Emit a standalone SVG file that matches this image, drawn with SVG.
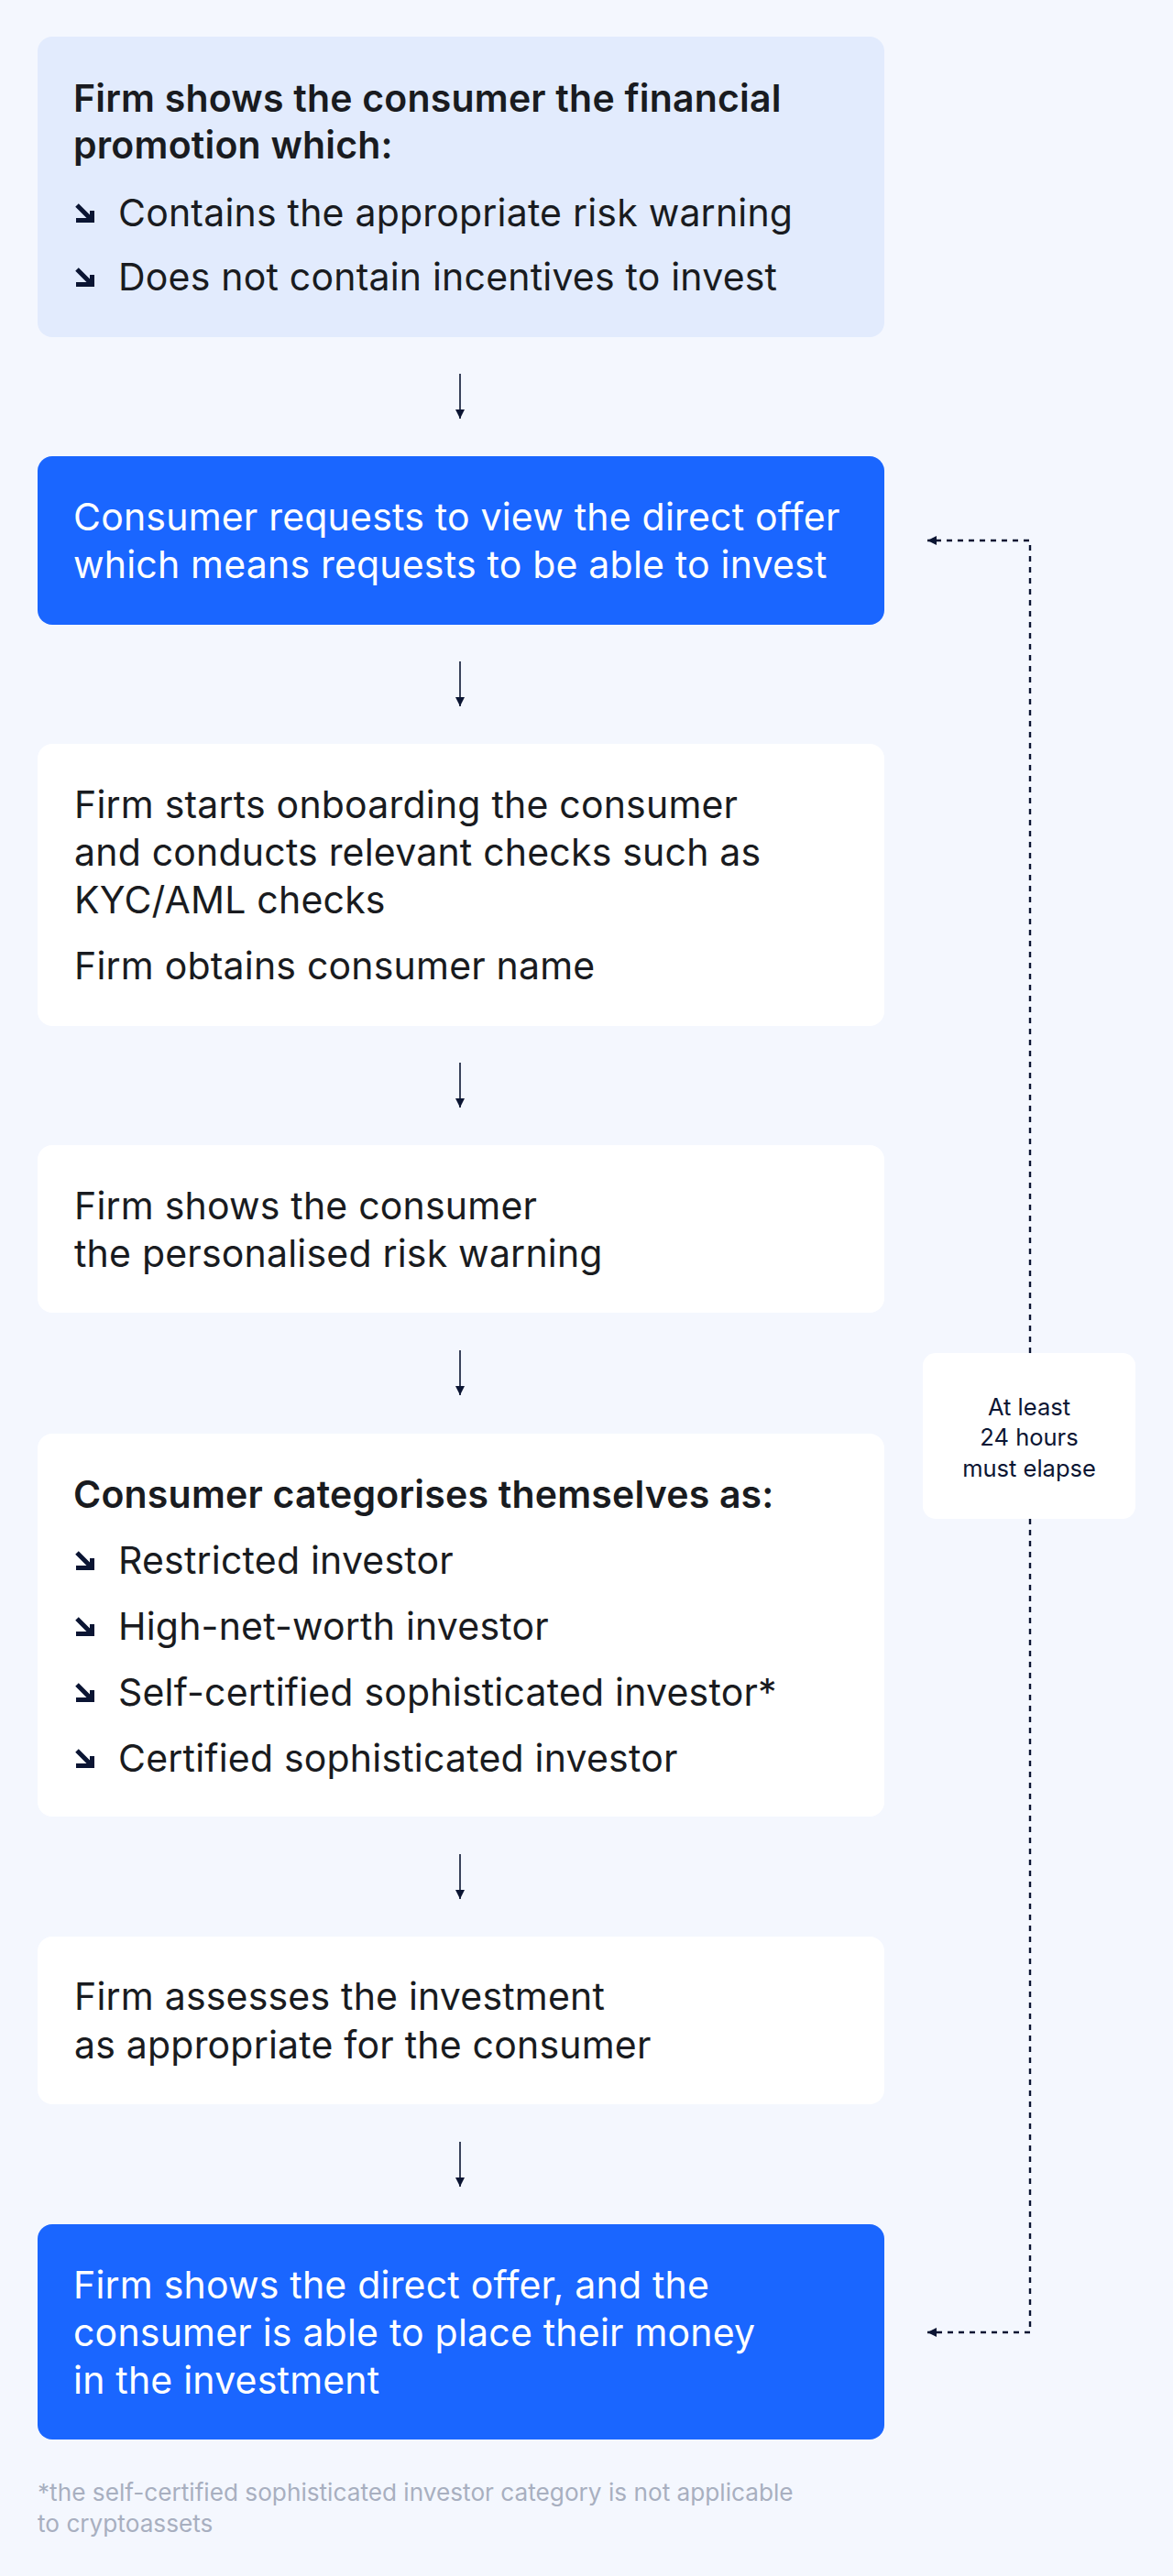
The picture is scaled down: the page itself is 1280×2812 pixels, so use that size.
<svg xmlns="http://www.w3.org/2000/svg" width="1280" height="2812" viewBox="0 0 1280 2812">
<defs>
<style>
.t{font-family:Inter,"Liberation Sans",sans-serif;font-size:41px;letter-spacing:0.2px;fill:#191b20}
.w{fill:#ffffff}
.b{font-weight:600}
.s{font-family:Inter,"Liberation Sans",sans-serif;font-size:25.5px;fill:#0b1533;text-anchor:middle}
.f{font-family:Inter,"Liberation Sans",sans-serif;font-size:26.2px;fill:#a8afc0}
.arr{stroke:#0b1533;stroke-width:1.6;fill:none}
.dash{stroke:#0b1533;stroke-width:2.4;fill:none;stroke-dasharray:6 6}
.ic{stroke:#0b1533;stroke-width:5;fill:none}
</style>
<marker id="ah" viewBox="0 0 10 10" refX="10" refY="5" markerWidth="11" markerHeight="10" markerUnits="userSpaceOnUse" orient="auto"><path d="M0,0 L10,5 L0,10 z" fill="#0b1533"/></marker>
<marker id="al" viewBox="0 0 10 10" refX="10" refY="5" markerWidth="10" markerHeight="10" markerUnits="userSpaceOnUse" orient="auto"><path d="M0,0 L10,5 L0,10 z" fill="#0b1533"/></marker>
<g id="bul"><path class="ic" d="M84,-23 L99,-8 M83,-6.5 H100.5 V-17"/></g>
</defs>
<rect width="1280" height="2812" fill="#f4f7fe"/>
<g id="connectors">
<line class="arr" x1="502" y1="408" x2="502" y2="457" marker-end="url(#ah)"/>
<line class="arr" x1="502" y1="722" x2="502" y2="771" marker-end="url(#ah)"/>
<line class="arr" x1="502" y1="1160" x2="502" y2="1209" marker-end="url(#ah)"/>
<line class="arr" x1="502" y1="1474" x2="502" y2="1523" marker-end="url(#ah)"/>
<line class="arr" x1="502" y1="2024" x2="502" y2="2073" marker-end="url(#ah)"/>
<line class="arr" x1="502" y1="2338" x2="502" y2="2387" marker-end="url(#ah)"/>
<path class="dash" d="M1124,1477 V590 H1012" marker-end="url(#al)"/>
<path class="dash" d="M1124,1658 V2546 H1012" marker-end="url(#al)"/>
</g>
<g id="n1">
<rect x="41" y="40" width="924" height="328" rx="16" fill="#e2ebfd"/>
<text class="t b" x="80" y="122">Firm shows the consumer the financial</text>
<text class="t b" x="80" y="173">promotion which:</text>
<use href="#bul" y="247"/>
<text class="t" x="129" y="247">Contains the appropriate risk warning</text>
<use href="#bul" y="317"/>
<text class="t" x="129" y="317">Does not contain incentives to invest</text>
</g>
<g id="n2">
<rect x="41" y="498" width="924" height="184" rx="16" fill="#1a66ff"/>
<text class="t w" x="80" y="579">Consumer requests to view the direct offer</text>
<text class="t w" x="80" y="631">which means requests to be able to invest</text>
</g>
<g id="n3">
<rect x="41" y="812" width="924" height="308" rx="16" fill="#ffffff"/>
<text class="t" x="81" y="893">Firm starts onboarding the consumer</text>
<text class="t" x="81" y="945">and conducts relevant checks such as</text>
<text class="t" x="81" y="997">KYC/AML checks</text>
<text class="t" x="81" y="1069">Firm obtains consumer name</text>
</g>
<g id="n4">
<rect x="41" y="1250" width="924" height="183" rx="16" fill="#ffffff"/>
<text class="t" x="81" y="1331">Firm shows the consumer</text>
<text class="t" x="81" y="1383">the personalised risk warning</text>
</g>
<g id="n5">
<rect x="41" y="1565" width="924" height="418" rx="16" fill="#ffffff"/>
<text class="t b" x="80" y="1646">Consumer categorises themselves as:</text>
<use href="#bul" y="1718"/>
<text class="t" x="129" y="1718">Restricted investor</text>
<use href="#bul" y="1790"/>
<text class="t" x="129" y="1790">High-net-worth investor</text>
<use href="#bul" y="1862"/>
<text class="t" x="129" y="1862">Self-certified sophisticated investor*</text>
<use href="#bul" y="1934"/>
<text class="t" x="129" y="1934">Certified sophisticated investor</text>
</g>
<g id="n6">
<rect x="41" y="2114" width="924" height="183" rx="16" fill="#ffffff"/>
<text class="t" x="81" y="2194">Firm assesses the investment</text>
<text class="t" x="81" y="2247">as appropriate for the consumer</text>
</g>
<g id="n7">
<rect x="41" y="2428" width="924" height="235" rx="16" fill="#1a66ff"/>
<text class="t w" x="80" y="2509">Firm shows the direct offer, and the</text>
<text class="t w" x="80" y="2561">consumer is able to place their money</text>
<text class="t w" x="80" y="2613">in the investment</text>
</g>
<g id="side">
<rect x="1007" y="1477" width="232" height="181" rx="14" fill="#ffffff"/>
<text class="s" x="1123" y="1545">At least</text>
<text class="s" x="1123" y="1578">24 hours</text>
<text class="s" x="1123" y="1612">must elapse</text>
</g>
<g id="note">
<text class="f" x="41" y="2730">*the self-certified sophisticated investor category is not applicable</text>
<text class="f" x="41" y="2764">to cryptoassets</text>
</g>
</svg>
